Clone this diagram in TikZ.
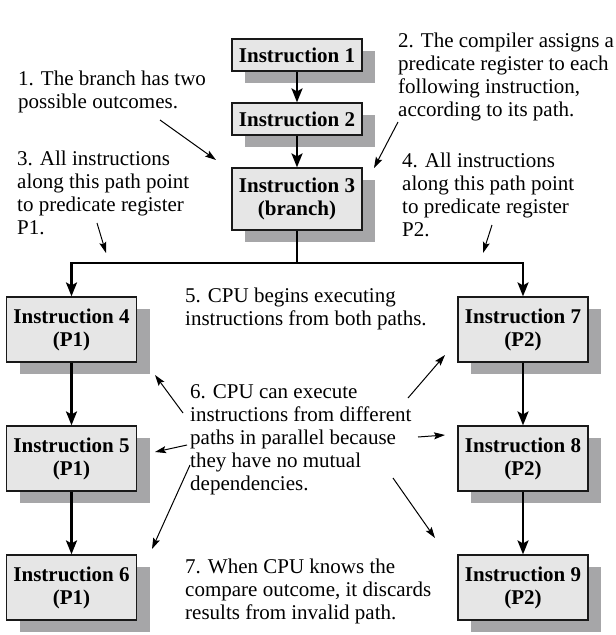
\documentclass[tikz,border=0pt]{standalone}
\usepackage{fontspec}
\setmainfont{Liberation Serif}
\usetikzlibrary{arrows.meta,shadows}
\definecolor{boxfill}{HTML}{E6E6E6}
\definecolor{shadowgray}{HTML}{A6A6A8}
\begin{document}
\begin{tikzpicture}[x=1pt,y=-1pt,
  box/.style={draw=black!90, line width=1.2pt, fill=boxfill, minimum width=130pt,
    inner sep=0pt, align=center, font=\fontsize{21}{23}\selectfont\bfseries,
    general shadow={fill=shadowgray, draw=none, shadow xshift=13pt, shadow yshift=-12pt}},
  smallbox/.style={box, minimum height=32pt},
  bigbox/.style={box, minimum height=65pt},
  note/.style={anchor=north west, inner sep=0pt, align=left, font=\fontsize{21}{23}\selectfont},
  flow/.style={line width=2.2pt, -{Stealth[length=14pt,width=11pt,inset=3pt]}},
  flowline/.style={line width=2.2pt},
  pointer/.style={line width=1pt, -{Stealth[length=11pt,width=7pt,inset=2pt]}}]

\fill[white] (0,0) rectangle (616,635);
\useasboundingbox (0,0) rectangle (616,635);

% boxes
\node[smallbox] (b1) at (297,55) {Instruction 1};
\node[smallbox] (b2) at (297,119) {Instruction 2};
\node[box, minimum height=62pt] (b3) at (297,199) {Instruction 3\\(branch)};
\node[bigbox] (b4) at (71.5,329.5) {Instruction 4\\(P1)};
\node[bigbox] (b5) at (71.5,458.5) {Instruction 5\\(P1)};
\node[bigbox] (b6) at (71.5,587.5) {Instruction 6\\(P1)};
\node[bigbox] (b7) at (523,329.5) {Instruction 7\\(P2)};
\node[bigbox] (b8) at (523,458.5) {Instruction 8\\(P2)};
\node[bigbox] (b9) at (523,587.5) {Instruction 9\\(P2)};

% flow
\coordinate (j) at (297,263);
\coordinate (jl) at (71.5,263);
\coordinate (jr) at (523,263);
\draw[flow] (b1) -- (b2);
\draw[flow] (b2) -- (b3);
\draw[flowline] (b3.south) -- (j);
\draw[flowline] ([xshift=-1.1pt]jl) -- ([xshift=1.1pt]jr);
\draw[flow] (jl) -- (b4.north);
\draw[flow] (jr) -- (b7.north);
\draw[flow] (b4) -- (b5);
\draw[flow] (b5) -- (b6);
\draw[flow] (b7) -- (b8);
\draw[flow] (b8) -- (b9);

% notes
\node[note] (n1) at (18,69) {\strut 1. The branch has two\\possible outcomes.};
\node[note] (n2) at (398,31) {\strut 2. The compiler assigns a\\predicate register to each\\following instruction,\\according to its path.};
\node[note] (n3) at (17,149) {\strut 3. All instructions\\along this path point\\to predicate register\\P1.};
\node[note] (n4) at (402,151) {\strut 4. All instructions\\along this path point\\to predicate register\\P2.};
\node[note] (n5) at (185,286) {\strut 5. CPU begins executing\\instructions from both paths.};
\node[note] (n6) at (190,382) {\strut 6. CPU can execute\\instructions from different\\paths in parallel because\\they have no mutual\\dependencies.};
\node[note] (n7) at (185,557) {\strut 7. When CPU knows the\\compare outcome, it discards\\results from invalid path.};

% pointers
\coordinate (p1s) at (160,120); \coordinate (p1e) at (216,160);
\coordinate (p2s) at (398,122); \coordinate (p2e) at (374,168);
\coordinate (p3s) at (97,223);  \coordinate (p3e) at (106,253);
\coordinate (p4s) at (492,225); \coordinate (p4e) at (483,253);
\coordinate (p6as) at (183,413); \coordinate (p6ae) at (155,375);
\coordinate (p6bs) at (187,445); \coordinate (p6be) at (155,452);
\coordinate (p6cs) at (190,465); \coordinate (p6ce) at (152,549);
\coordinate (p6ds) at (408,398); \coordinate (p6de) at (445,355);
\coordinate (p6es) at (418,437); \coordinate (p6ee) at (445,435);
\coordinate (p6fs) at (393,478); \coordinate (p6fe) at (435,538);
\draw[pointer] (p1s) -- (p1e);
\draw[pointer] (p2s) -- (p2e);
\draw[pointer] (p3s) -- (p3e);
\draw[pointer] (p4s) -- (p4e);
\draw[pointer] (p6as) -- (p6ae);
\draw[pointer] (p6bs) -- (p6be);
\draw[pointer] (p6cs) -- (p6ce);
\draw[pointer] (p6ds) -- (p6de);
\draw[pointer] (p6es) -- (p6ee);
\draw[pointer] (p6fs) -- (p6fe);
\end{tikzpicture}
\end{document}
